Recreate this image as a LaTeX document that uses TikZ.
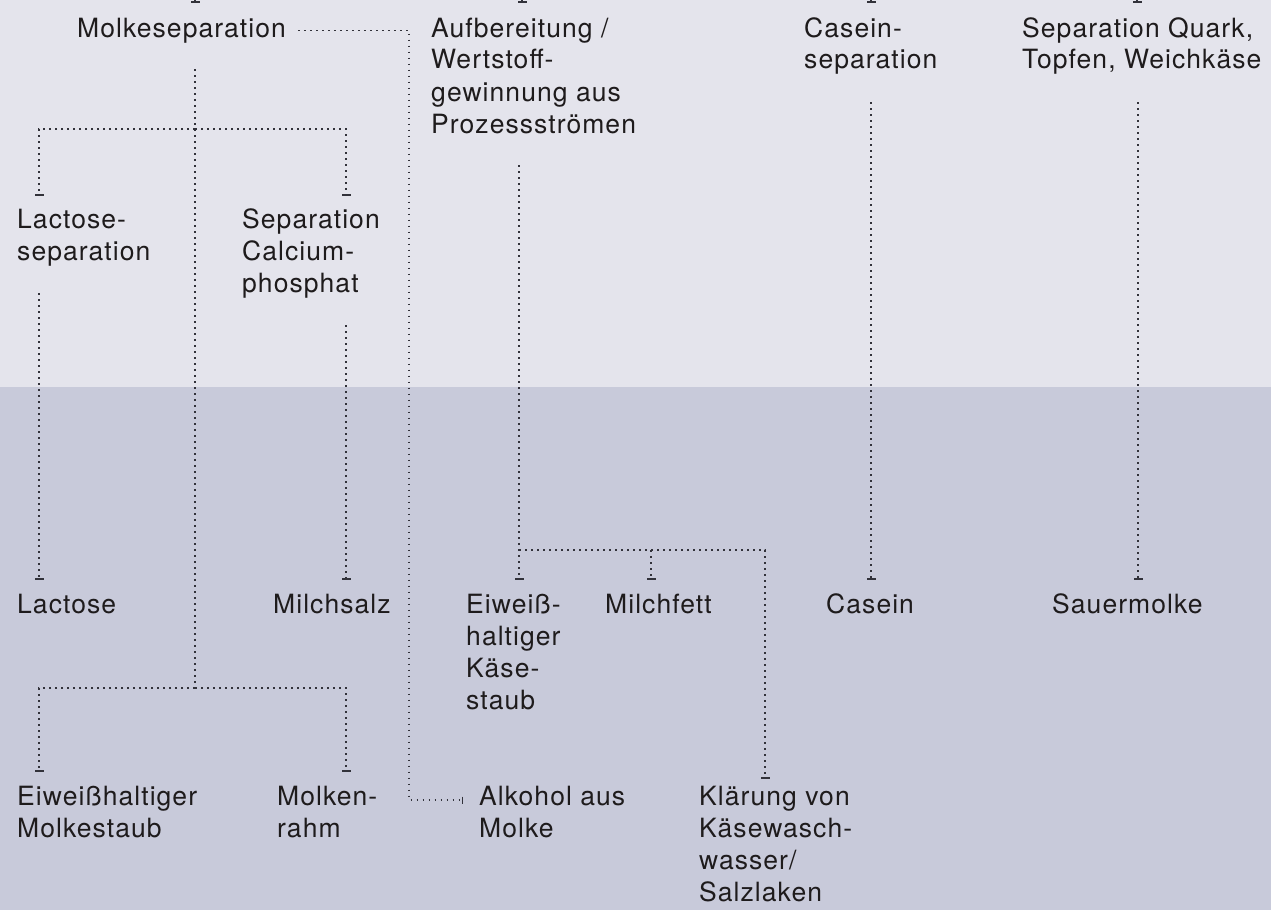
\documentclass[tikz,border=0pt]{standalone}
\usepackage{fontspec}
\setmainfont{TeX Gyre Heros}[LetterSpace=4]
\usetikzlibrary{arrows.meta,calc}
\definecolor{bgtop}{RGB}{228,228,236}
\definecolor{bgbot}{RGB}{200,202,218}
\definecolor{ink}{RGB}{30,27,28}
\definecolor{dotc}{RGB}{50,50,58}
\newcommand{\txtstack}[1]{\begin{tabular}[t]{@{}l@{}}#1\end{tabular}}
\tikzset{
  lbl/.style={anchor=base west,inner sep=0pt,text=ink,font=\fontsize{26.5}{32}\selectfont},
  conn/.style={draw=dotc,line width=1.7pt,dash pattern=on 1.7pt off 4.3pt,-{Bar[width=9pt,line width=2pt]}},
}
\begin{document}
\begin{tikzpicture}[x=1pt,y=-1pt]
\useasboundingbox (0,0) rectangle (1271,910);
\clip (0,0) rectangle (1271,910);
%background
\fill[bgtop] (0,0) rectangle (1271,387);
\fill[bgbot] (0,387) rectangle (1271,910);
%process steps
\node[lbl] (ms) at (77,37) {\txtstack{Molkeseparation}};
\node[lbl] (au) at (431,37) {\txtstack{Aufbereitung /\\Wertstoff-\\gewinnung aus\\Prozessströmen}};
\node[lbl] (ce) at (804,37) {\txtstack{Casein-\\separation}};
\node[lbl] (qu) at (1022,37) {\txtstack{Separation Quark,\\Topfen, Weichkäse}};
\node[lbl] (ls) at (17,228) {\txtstack{Lactose-\\separation}};
\node[lbl] (cs) at (242,228) {\txtstack{Separation\\Calcium-\\phosphat}};
%products
\node[lbl] (la) at (17,613) {\txtstack{Lactose}};
\node[lbl] (mz) at (273,613) {\txtstack{Milchsalz}};
\node[lbl] (ks) at (466,613) {\txtstack{Eiweiß-\\haltiger\\Käse-\\staub}};
\node[lbl] (mf) at (605,613) {\txtstack{Milchfett}};
\node[lbl] (ca) at (826,613) {\txtstack{Casein}};
\node[lbl] (sm) at (1052,613) {\txtstack{Sauermolke}};
\node[lbl] (es) at (17,805) {\txtstack{Eiweißhaltiger\\Molkestaub}};
\node[lbl] (mr) at (277,805) {\txtstack{Molken-\\rahm}};
\node[lbl] (al) at (479,805) {\txtstack{Alkohol aus\\Molke}};
\node[lbl] (kl) at (699,805) {\txtstack{Klärung von\\Käsewasch-\\wasser/\\Salzlaken}};
%incoming stubs
\foreach \tx/\nd in {118/ms,91/au,67/ce,115/qu}
  \draw[conn] ([xshift=\tx pt,yshift=44pt]\nd.base west) -- ([xshift=\tx pt,yshift=34pt]\nd.base west);
%whey tree
\coordinate (m0) at ([xshift=118pt,yshift=-32pt]ms.base west);
\coordinate (m1) at (195,129);
\coordinate (m2) at (195,688);
\draw[conn,-] (m0) -- (m2);
\draw[conn] (m1) -| ([xshift=22pt,yshift=32pt]ls.base west);
\draw[conn] (m1) -| ([xshift=104pt,yshift=32pt]cs.base west);
\draw[conn] (m2) -| ([xshift=22pt,yshift=33pt]es.base west);
\draw[conn] (m2) -| ([xshift=69pt,yshift=33pt]mr.base west);
\draw[conn] ([xshift=22pt,yshift=-65pt]ls.base west) -- ([xshift=22pt,yshift=33pt]la.base west);
\draw[conn] ([xshift=104pt,yshift=-97pt]cs.base west) -- ([xshift=73pt,yshift=33pt]mz.base west);
\draw[conn,-{Bar[width=7pt,line width=1.5pt]}] ([xshift=12pt]ms.east) -| ([xshift=-70pt,yshift=5pt]al.base west) -- ([xshift=-16pt,yshift=5pt]al.base west);
%process streams
\coordinate (a0) at ([xshift=88pt,yshift=-128pt]au.base west);
\coordinate (a1) at (519,550);
\coordinate (a2) at (651,550);
\draw[conn] (a0) -- ([xshift=53pt,yshift=33pt]ks.base west);
\draw[conn] (a1) -| ([xshift=66pt,yshift=26pt]kl.base west);
\draw[conn] (a2) -- ([xshift=46pt,yshift=33pt]mf.base west);
%casein and acid whey
\draw[conn] ([xshift=67pt,yshift=-65pt]ce.base west) -- ([xshift=45pt,yshift=33pt]ca.base west);
\draw[conn] ([xshift=116pt,yshift=-65pt]qu.base west) -- ([xshift=86pt,yshift=33pt]sm.base west);
\end{tikzpicture}
\end{document}
